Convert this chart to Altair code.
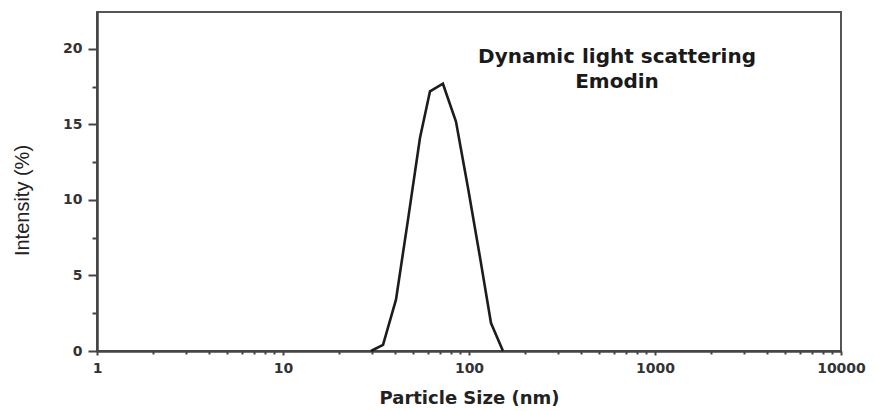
import altair as alt
import pandas as pd

# Data
particle_size_nm = [29.7, 34.5, 40.5, 47.0, 54.5, 61.7, 72.4, 85.1, 98.8, 114.6, 131.3, 152.3]
intensity_pct = [0.0, 0.4, 3.4, 8.7, 14.1, 17.2, 17.7, 15.2, 10.8, 6.2, 1.85, 0.0]

x_major = [1, 10, 100, 1000, 10000]
x_ticks = [m * d for d in [1, 10, 100, 1000] for m in range(1, 10)] + [10000]
y_ticks = [0, 2.5, 5, 7.5, 10, 12.5, 15, 17.5, 20]
y_labels = [0, 5, 10, 15, 20]

annot_x = [625]
annot_y = [19.45]
annot_text = ["Dynamic light scattering\nEmodin"]

df = pd.DataFrame({"size": particle_size_nm, "intensity": intensity_pct})
ann = pd.DataFrame({"x": annot_x, "y": annot_y, "t": annot_text})

xscale = alt.Scale(type="log", domain=[1, 10000], nice=False)
yscale = alt.Scale(domain=[0, 22.45], nice=False, zero=True)

label_font = "DejaVu Sans"

x_label_expr = "indexof(" + str([str(v) for v in x_major]) + ", datum.label) >= 0 ? datum.label : ''"
y_label_expr = "indexof(" + str([str(v) for v in y_labels]) + ", datum.label) >= 0 ? datum.label : ''"

line = alt.Chart(df).mark_line(color="#1c1c1c", strokeWidth=2.6).encode(
    x=alt.X(
        "size:Q",
        scale=xscale,
        axis=alt.Axis(
            values=x_ticks,
            format="d",
            labelExpr=x_label_expr,
            tickSize={"condition": {"test": "indexof([1,10,100,1000,10000], datum.value) >= 0", "value": 4}, "value": 3},
            tickWidth=2,
            tickColor="#444",
            domainColor="#444",
            domainWidth=2.5,
            grid=False,
            labelFont=label_font,
            labelFontWeight="bold",
            labelFontSize=14,
            labelColor="#333",
            labelPadding=6,
            labelFlush=False,
            labelOverlap=False,
            title="Particle Size (nm)",
            titleFont=label_font,
            titleFontWeight="bold",
            titleFontSize=18,
            titleColor="#222",
            titleY=47,
            titleBaseline="middle",
        ),
    ),
    y=alt.Y(
        "intensity:Q",
        scale=yscale,
        axis=alt.Axis(
            values=y_ticks,
            labelExpr=y_label_expr,
            tickSize={"condition": {"test": "datum.value % 5 == 0", "value": 9}, "value": 5},
            tickWidth=2,
            tickColor="#444",
            domainColor="#444",
            domainWidth=2.5,
            grid=False,
            labelFont=label_font,
            labelFontWeight="bold",
            labelFontSize=14,
            labelColor="#333",
            labelPadding=6,
            labelOverlap=False,
            title="Intensity (%)",
            titleFont="Liberation Sans Narrow, Liberation Sans",
            titleFontWeight="normal",
            titleFontSize=20,
            titleColor="#222",
            titleAngle=-90,
            titleX=-75,
            titleY=188,
            titleAlign="center",
            titleBaseline="middle",
        ),
    ),
)

text = alt.Chart(ann).mark_text(
    font=label_font,
    fontWeight="bold",
    fontSize=20,
    color="#1a1a1a",
    lineBreak="\n",
    lineHeight=25,
    align="center",
    baseline="middle",
).encode(
    x=alt.X("x:Q", scale=xscale),
    y=alt.Y("y:Q", scale=yscale),
    text="t:N",
)

chart = alt.layer(line, text).properties(
    width=744,
    height=339,
    autosize=alt.AutoSizeParams(type="none"),
    padding={"left": 89, "top": 4, "right": 26, "bottom": 58},
    background="white",
).configure_view(stroke="#555", strokeWidth=2)

chart.save("out.html", embed_options={"renderer": "svg", "actions": False})
